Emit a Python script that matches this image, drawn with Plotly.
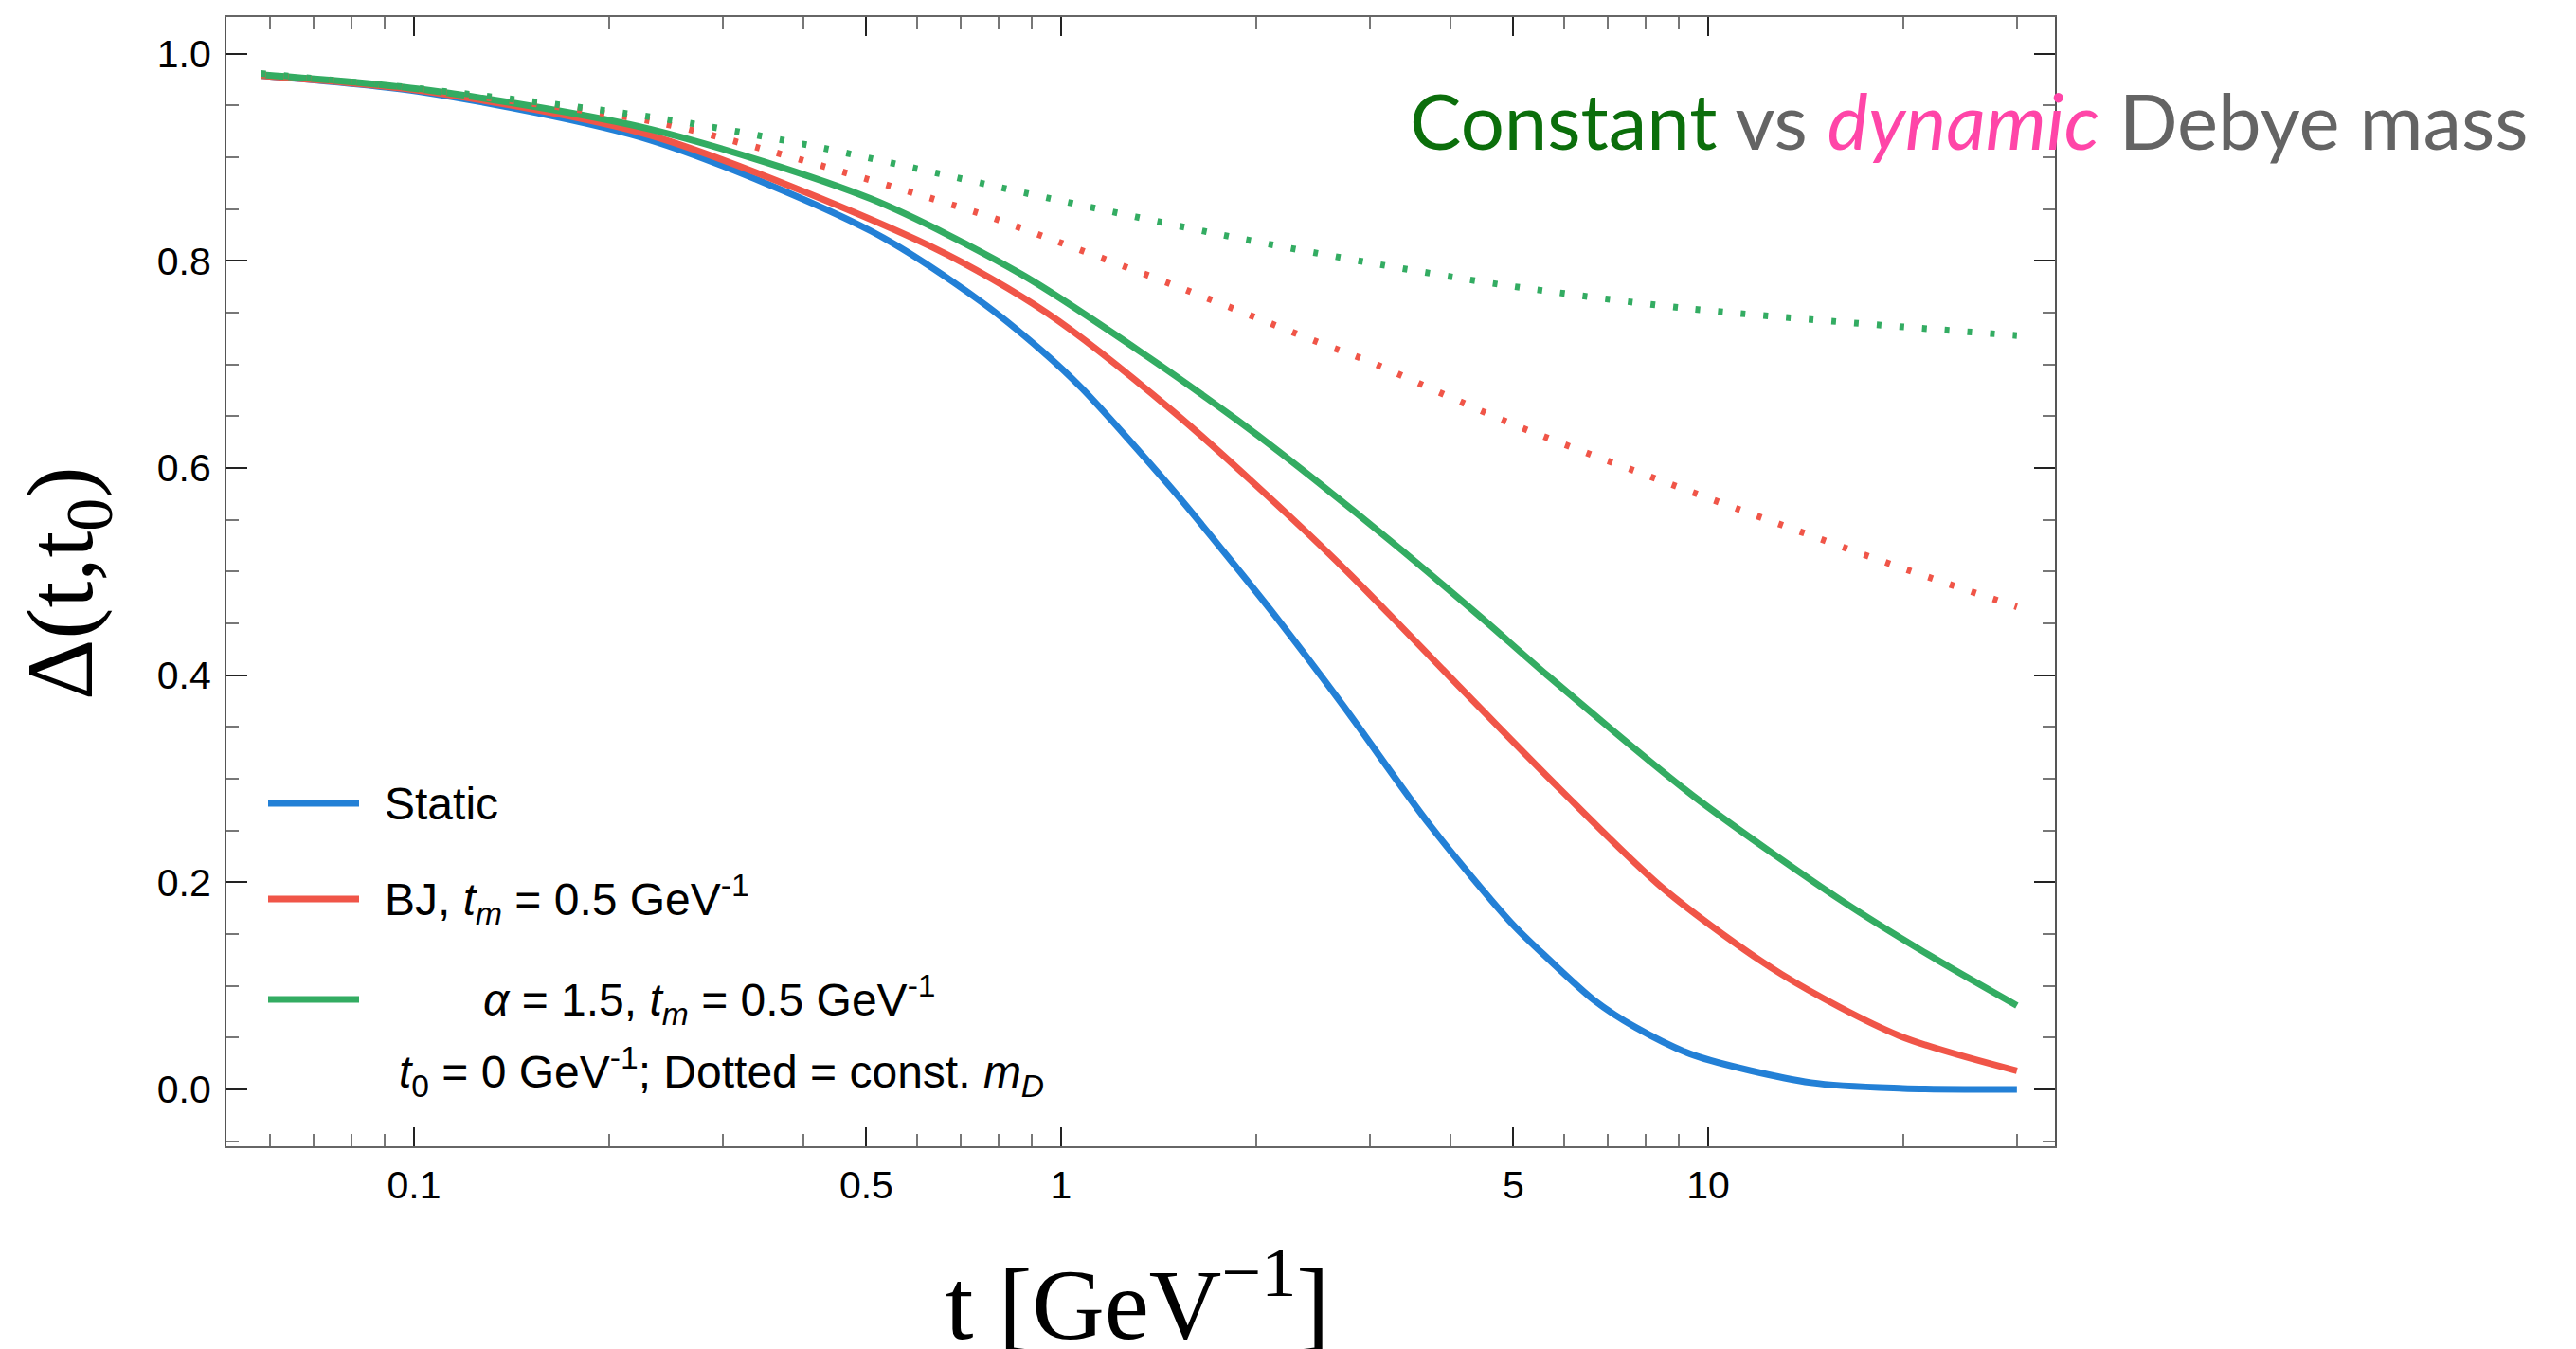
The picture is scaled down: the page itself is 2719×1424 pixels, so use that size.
import plotly.graph_objects as go

# ---- curve data: Delta(t, t0) versus t [GeV^-1] ----
t_static = [0.058, 0.1034, 0.2326, 0.508, 0.747, 0.935, 1.077, 1.488, 1.867, 2.144,
            2.719, 3.716, 4.977, 5.64, 6.668, 7.72, 9.505, 14.42, 20.0, 30.0]
d_static = [0.979, 0.963, 0.9165, 0.829, 0.762, 0.713, 0.677, 0.579, 0.504, 0.457,
            0.372, 0.255, 0.160, 0.127, 0.086, 0.060, 0.033, 0.0065, 0.001, 0.0]

t_bj = [0.058, 0.1034, 0.2326, 0.629, 0.95, 1.488, 2.286, 2.8, 3.295, 4.125, 5.88,
        8.56, 13.0, 19.72, 30.0]
d_bj = [0.979, 0.964, 0.921, 0.814, 0.750, 0.655, 0.550, 0.497, 0.452, 0.389, 0.291,
        0.193, 0.111, 0.052, 0.018]

t_alpha = [0.058, 0.1034, 0.2326, 0.508, 0.869, 1.365, 1.865, 2.191, 3.225, 4.454,
           5.64, 9.5, 16.01, 21.9, 30.0]
d_alpha = [0.980, 0.9655, 0.927, 0.860, 0.787, 0.707, 0.647, 0.614, 0.530, 0.456,
           0.400, 0.283, 0.183, 0.130, 0.081]

# constant Debye mass counterparts (dotted)
t_bj_const = [0.058, 0.1034, 0.2326, 0.3446, 0.747, 0.946, 1.488, 2.545, 2.954, 4.96,
              9.33, 19.5, 30.0]
d_bj_const = [0.980, 0.965, 0.935, 0.9084, 0.846, 0.823, 0.777, 0.7195, 0.7044, 0.643,
              0.578, 0.5055, 0.466]

t_alpha_const = [0.058, 0.1034, 0.2326, 0.4096, 0.967, 1.844, 2.954, 4.8, 9.33, 30.0]
d_alpha_const = [0.981, 0.966, 0.939, 0.9115, 0.860, 0.823, 0.799, 0.777, 0.754, 0.728]

# ---- ticks ----
x_major = [0.1, 0.5, 1, 5, 10]
x_major_text = ["0.1", "0.5", "1", "5", "10"]
x_minor = [0.06, 0.07, 0.08, 0.09, 0.2, 0.3, 0.4, 0.6, 0.7, 0.8, 0.9,
           2, 3, 4, 6, 7, 8, 9, 20, 30]
y_major = [0.0, 0.2, 0.4, 0.6, 0.8, 1.0]
y_minor = [-0.05, 0.05, 0.1, 0.15, 0.25, 0.3, 0.35, 0.45, 0.5, 0.55,
           0.65, 0.7, 0.75, 0.85, 0.9, 0.95]

# ---- legend labels ----
legend_labels = [
    "Static",
    "BJ, <i>t</i><sub><i>m</i></sub> = 0.5 GeV<sup>-1</sup>",
    "<i>α</i> = 1.5, <i>t</i><sub><i>m</i></sub> = 0.5 GeV<sup>-1</sup>",
]
note_label = "<i>t</i><sub>0</sub> = 0 GeV<sup>-1</sup>; Dotted = const. <i>m</i><sub><i>D</i></sub>"

BLUE = "#2380D6"
RED = "#F05548"
GREEN = "#33AC62"

# ---- page geometry (pixels) ----
W, H = 2719, 1424
PL, PR, PT, PB = 239, 2169, 18, 1210   # plot-area edges


def px_x(p):
    return (p - PL) / (PR - PL)


def px_y(p):
    return (PB - p) / (PB - PT)


fig = go.Figure()

series = [
    (t_static, d_static, BLUE, "solid"),
    (t_bj, d_bj, RED, "solid"),
    (t_alpha, d_alpha, GREEN, "solid"),
    (t_bj_const, d_bj_const, RED, "5px,19px"),
    (t_alpha_const, d_alpha_const, GREEN, "5px,19px"),
]
for t, d, col, dash in series:
    fig.add_trace(go.Scatter(
        x=t, y=d, mode="lines",
        line=dict(color=col, width=7, dash=dash, shape="spline", smoothing=0.8),
        hoverinfo="skip", showlegend=False,
    ))

tick_font = dict(family="Liberation Sans, Arial, sans-serif", size=41, color="black")

fig.update_layout(
    width=W, height=H,
    margin=dict(l=PL, r=W - PR, t=PT, b=H - PB, pad=0),
    plot_bgcolor="white", paper_bgcolor="white",
    showlegend=False,
    xaxis=dict(
        type="log", range=[-1.2899, 1.5359],
        tickmode="array", tickvals=x_major, ticktext=x_major_text,
        ticks="inside", ticklen=20, tickwidth=2, tickcolor="#222",
        showline=True, linecolor="#666", linewidth=2, mirror="ticks",
        showgrid=False, zeroline=False, tickfont=tick_font, ticklabelstandoff=4,
        minor=dict(tickmode="array", tickvals=x_minor, ticks="inside", ticklen=13,
                   tickwidth=2, tickcolor="#777", showgrid=False),
    ),
    yaxis=dict(
        range=[-0.0549, 1.0355],
        tickmode="array", tickvals=y_major, tickformat=".1f",
        ticks="inside", ticklen=22, tickwidth=2, tickcolor="#222",
        showline=True, linecolor="#555", linewidth=2, mirror="ticks",
        showgrid=False, zeroline=False, tickfont=tick_font, ticklabelstandoff=6,
        minor=dict(tickmode="array", tickvals=y_minor, ticks="inside", ticklen=13,
                   tickwidth=2, tickcolor="#777", showgrid=False),
    ),
)

annotations = []

# axis titles
annotations.append(dict(
    text="t [GeV<sup>−1</sup>]", xref="paper", yref="paper",
    x=px_x(1201), y=px_y(1369), xanchor="center", yanchor="middle",
    showarrow=False, font=dict(family="Liberation Serif, Times New Roman, serif",
                               size=106, color="black"),
))
annotations.append(dict(
    text="Δ(t,t<sub>0</sub>)", xref="paper", yref="paper",
    x=px_x(70), y=px_y(616), xanchor="center", yanchor="middle", textangle=-90,
    showarrow=False, font=dict(family="Liberation Serif, Times New Roman, serif",
                               size=100, color="black"),
))

# headline
annotations.append(dict(
    text=("<span style='color:#0B6E0B'>Constant</span> "
          "<span style='color:#646464'>vs</span> "
          "<i><span style='color:#FF45A8'>dynamic</span></i> "
          "<span style='color:#646464'>Debye mass</span>"),
    xref="paper", yref="paper", x=px_x(1486), y=px_y(126),
    xanchor="left", yanchor="middle", showarrow=False,
    font=dict(family="Lato, sans-serif", size=81.5, weight=400, color="#646464"),
))

# legend: line samples and labels
legend_font = dict(family="Liberation Sans, Arial, sans-serif", size=48, color="black")
legend_rows = [(848, BLUE, 404), (949, RED, 404), (1055, GREEN, 508)]
shapes = []
for (yc, col, xt), label in zip(legend_rows, legend_labels):
    shapes.append(dict(type="line", xref="paper", yref="paper",
                       x0=px_x(283), x1=px_x(379), y0=px_y(yc), y1=px_y(yc),
                       line=dict(color=col, width=7)))
    annotations.append(dict(text=label, xref="paper", yref="paper",
                            x=px_x(xt), y=px_y(yc), xanchor="left", yanchor="middle",
                            showarrow=False, font=legend_font))
annotations.append(dict(text=note_label, xref="paper", yref="paper",
                        x=px_x(419), y=px_y(1131), xanchor="left", yanchor="middle",
                        showarrow=False, font=legend_font))

fig.update_layout(annotations=annotations, shapes=shapes)

fig.write_html("out.html")
